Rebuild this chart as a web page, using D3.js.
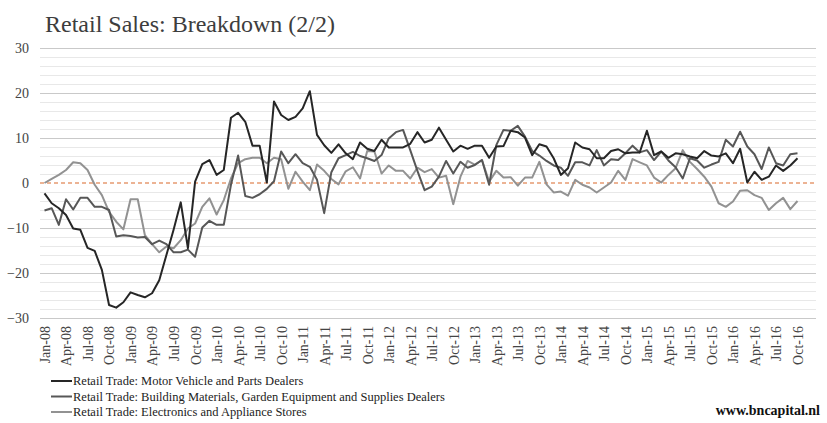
<!DOCTYPE html>
<html lang="en">
<head>
  <meta charset="UTF-8" />
  <title>Retail Sales: Breakdown (2/2)</title>
  <script src="https://d3js.org/d3.v7.min.js"></script>
  <style>
    body {
      margin: 0;
      background: #fff;
      font-family: "Liberation Serif", "DejaVu Serif", serif;
    }
    svg { display: block; }
    svg text { font-family: "Liberation Serif", "DejaVu Serif", serif; }
    .title { font-size: 24px; fill: #3d3d3d; }
    .ytick text { font-size: 14px; fill: #444; }
    .xtick text { font-size: 14px; fill: #444; }
    .grid-major { stroke: #c9c9c9; stroke-width: 1px; }
    .grid-minor { stroke: #e8e8e8; stroke-width: 1px; }
    .zero { stroke: #d9682b; stroke-width: 1.2px; stroke-dasharray: 4,3; }
    .line { fill: none; stroke-width: 2px; stroke-linejoin: round; }
    .legend text { font-size: 12.5px; fill: #222; }
    .credit { font-size: 14px; font-weight: bold; fill: #111; }
  </style>
</head>
<body>
<svg width="827" height="423"></svg>
<script>
// categories: monthly, Jan-08 .. Oct-16
const firstMonth = new Date(2008, 0, 1);
const lastMonth = new Date(2016, 9, 1);
const months = d3.timeMonth.range(firstMonth, d3.timeMonth.offset(lastMonth, 1));

const seriesNames = [
  "Retail Trade: Motor Vehicle and Parts Dealers",
  "Retail Trade: Building Materials, Garden Equipment and Supplies Dealers",
  "Retail Trade: Electronics and Appliance Stores"
];

const motorVehicle = [
  -2.3, -4.5, -5.6, -7.1, -10.1, -10.4, -14.4, -15.1, -19.3, -27.1, -27.7, -26.5,
  -24.3, -24.9, -25.4, -24.5, -21.6, -16, -10.4, -4.3, -14.5, 0.3, 4.2, 5.1,
  1.8, 2.9, 14.5, 15.6, 13.6, 8.3, 8.3, 0.1, 18.1, 15.1, 14, 14.7,
  16.6, 20.4, 10.7, 8.4, 6.7, 8.6, 6.6, 5.3, 9, 7.6, 7.1, 9.6,
  7.9, 7.9, 7.9, 8.7, 11.3, 9, 9.6, 12.3, 9.6, 7, 8.3, 7.6,
  8.3, 8.3, 5.6, 8.1, 8.2, 11.6, 11.3, 10.1, 6.2, 8.6, 8.1, 5.5,
  1.8, 3.3, 9, 7.9, 7.5, 5.5, 5.5, 7.1, 7.5, 6.6, 6.8, 6.8,
  11.6, 6.2, 7, 5.6, 6.6, 6.4, 5.9, 5.5, 7.1, 6.1, 5.9, 6.6,
  4.4, 7.6, 0.1, 2.5, 0.7, 1.4, 3.9, 2.7, 3.9, 5.5
];

const buildingMaterials = [
  -6.1, -5.6, -9.3, -3.6, -5.9, -3.3, -3.3, -5.3, -5.3, -6, -11.9, -11.6,
  -11.8, -12.1, -12, -13.6, -12.8, -13.6, -15.4, -15.4, -14.8, -16.4, -9.9, -8.4,
  -9.3, -9.3, -0.4, 6.1, -2.9, -3.3, -2.5, -1.3, 0.4, 7, 4.4, 6.4,
  4.4, 3.6, 0.7, -6.7, 2.4, 5.5, 6.2, 6.9, 6, 5.5, 4.9, 6.2,
  9.9, 11.3, 11.8, 7.3, 2.7, -1.6, -0.8, 1.4, 4.9, 2.1, 4.7, 3.4,
  4, 5.1, -0.4, 8.4, 11.8, 11.6, 12.7, 10.3, 7.1, 6.1, 4.9, 3.9,
  3.4, 1.6, 4.6, 4.6, 3.9, 7.3, 3.9, 5.3, 5.1, 6.6, 8.3, 6.8,
  7.3, 5.1, 7, 5, 3.5, 1, 5.5, 5, 3.4, 4.1, 4.7, 9.6,
  8.1, 11.4, 8.1, 6.4, 3.1, 7.9, 4.4, 3.9, 6.4, 6.6
];

const electronics = [
  0, 0.9, 1.8, 2.9, 4.6, 4.4, 2.9, -0.4, -2.7, -6.4, -8.6, -10.3,
  -3.6, -3.6, -11.6, -13.6, -15.4, -14.1, -14.5, -12.7, -10.1, -9, -5.3, -3.4,
  -7, -3.8, 1, 4.4, 5.3, 5.6, 5.6, 4.4, 5.6, 5.3, -1.3, 2.5,
  0.3, -1.6, 4.1, 2.7, 0.9, -0.3, 2.6, 3.5, 1, 7.1, 7, 2.1,
  3.9, 2.7, 2.7, 1, 3.4, 2.4, 3.1, 1.2, 1.6, -4.7, 1.4, 4.9,
  4.1, 5.1, 0.3, 2.7, 1.2, 1.3, -0.6, 1.2, 1.2, 4.7, -0.3, -2.1,
  -1.9, -2.8, 0.7, -0.4, -1, -2.1, -1, 0.1, 2.7, 0.7, 5.3, 4.6,
  3.9, 1.2, 0.1, 1.8, 3.3, 7.3, 4.7, 3.1, 1.4, -0.8, -4.5, -5.3,
  -4.1, -1.7, -1.6, -2.7, -3.3, -6, -4.5, -3.3, -5.8, -4
];

const seriesColors = ["#262626", "#575757", "#929292"];
const yMajorTicks = [-30, -20, -10, 0, 10, 20, 30];
const yMinorTicks = d3.range(-30, 31, 2);

const svg = d3.select("svg");
const plotLeft = 40, plotRight = 816;

const x = d3.scalePoint()
  .domain(months.map(d => +d))
  .range([44.5, 797.5]);

const y = d3.scaleLinear()
  .domain([-30, 30])
  .range([318, 48]);

const fmt = d3.timeFormat("%b-%y");

// title
svg.append("text")
  .attr("class", "title")
  .attr("x", 45)
  .attr("y", 32)
  .text("Retail Sales: Breakdown (2/2)");

// grid
svg.append("g")
  .selectAll("line")
  .data(yMinorTicks.filter(v => v % 10 !== 0))
  .join("line")
  .attr("class", "grid-minor")
  .attr("x1", plotLeft).attr("x2", plotRight)
  .attr("y1", d => Math.round(y(d)) + 0.5)
  .attr("y2", d => Math.round(y(d)) + 0.5);

svg.append("g")
  .selectAll("line")
  .data(yMajorTicks.filter(v => v !== 0))
  .join("line")
  .attr("class", "grid-major")
  .attr("x1", plotLeft).attr("x2", plotRight)
  .attr("y1", d => Math.round(y(d)) + 0.5)
  .attr("y2", d => Math.round(y(d)) + 0.5);

svg.append("line")
  .attr("class", "zero")
  .attr("x1", plotLeft).attr("x2", plotRight)
  .attr("y1", y(0)).attr("y2", y(0));

// y axis labels
const yAxis = d3.axisLeft(y).tickValues(yMajorTicks).tickSize(0).tickPadding(0);
svg.append("g")
  .attr("class", "ytick")
  .attr("transform", "translate(29,0)")
  .call(yAxis)
  .attr("font-family", null)
  .call(g => g.select(".domain").remove())
  .selectAll("text")
  .attr("dy", "0.35em");

// x axis labels, every third month
const xAxis = d3.axisBottom(x)
  .tickValues(months.filter((d, i) => i % 3 === 0).map(d => +d))
  .tickFormat(d => fmt(new Date(d)))
  .tickSize(0);
svg.append("g")
  .attr("class", "xtick")
  .attr("transform", "translate(0,326)")
  .call(xAxis)
  .attr("font-family", null)
  .call(g => g.select(".domain").remove())
  .selectAll("text")
  .attr("transform", "rotate(-90)")
  .attr("text-anchor", "end")
  .attr("x", 0)
  .attr("y", 0)
  .attr("dx", 0)
  .attr("dy", "0.35em");

// lines
const allSeries = [motorVehicle, buildingMaterials, electronics];
const line = d3.line()
  .x((d, i) => x(+months[i]))
  .y(d => y(d));

svg.append("g")
  .selectAll("path")
  .data(allSeries.slice().reverse())
  .join("path")
  .attr("class", "line")
  .attr("stroke", (d, i) => seriesColors[2 - i])
  .attr("d", line);

// legend
const legend = svg.append("g")
  .attr("class", "legend")
  .selectAll("g")
  .data(seriesNames)
  .join("g")
  .attr("transform", (d, i) => `translate(51,${381 + i * 15.5})`);

legend.append("line")
  .attr("x1", 0).attr("x2", 21)
  .attr("stroke", (d, i) => seriesColors[i])
  .attr("stroke-width", 2);

legend.append("text")
  .attr("x", 22)
  .attr("dy", "0.35em")
  .text(d => d);

svg.append("text")
  .attr("class", "credit")
  .attr("x", 820)
  .attr("y", 415)
  .attr("text-anchor", "end")
  .text("www.bncapital.nl");
</script>
</body>
</html>
